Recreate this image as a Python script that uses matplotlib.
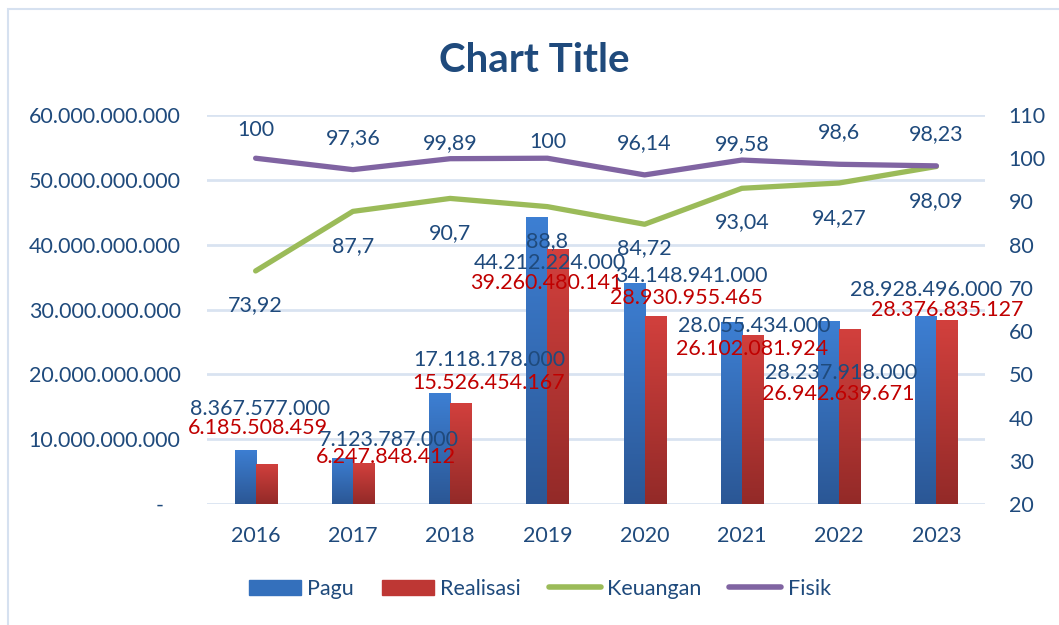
import numpy as np
import matplotlib
matplotlib.use("Agg")
import matplotlib.pyplot as plt
from matplotlib.colors import LinearSegmentedColormap
from matplotlib.patches import Patch, Rectangle
from matplotlib.lines import Line2D

plt.rcParams['font.family'] = ['Lato', 'DejaVu Sans']

years = ['2016', '2017', '2018', '2019', '2020', '2021', '2022', '2023']
pagu = [8367577000, 7123787000, 17118178000, 44212224000,
        34148941000, 28055434000, 28237918000, 28928496000]
realisasi = [6185508459, 6247848412, 15526454167, 39260480141,
             28930955465, 26102081924, 26942639671, 28376835127]
keuangan = [73.92, 87.7, 90.7, 88.8, 84.72, 93.04, 94.27, 98.09]
fisik = [100, 97.36, 99.89, 100, 96.14, 99.58, 98.6, 98.23]
left_ticks = ['-', '10.000.000.000', '20.000.000.000', '30.000.000.000',
              '40.000.000.000', '50.000.000.000', '60.000.000.000']

# hand placed data labels (as in the source chart)
pagu_dx = [0.05, 0.37, 0.40, 0.03, 0.48, 0.13, 0.02, -0.11]
pagu_ly = [14.65, 9.87, 22.2, 37.2, 35.2, 27.5, 20.2, 33.0]   # billions
real_dx = [0.02, 0.34, 0.40, -0.01, 0.43, 0.10, -0.01, 0.11]
real_ly = [11.7, 7.25, 18.7, 34.1, 31.8, 23.9, 17.0, 29.9]
keu_ly = [66.1, 79.7, 82.7, 80.9, 79.3, 85.3, 86.2, 90.1]
fis_ly = [106.6, 104.7, 103.6, 103.8, 103.6, 103.3, 106.1, 105.6]

dark = '#1F4A7C'
red_txt = '#C00000'
green = '#9BBB59'
purple = '#8064A2'
grid_c = '#D9E3F1'
fs = 15.5

def fmt(v):
    return f'{v:,}'.replace(',', '.')

def fmt_pct(v):
    return f'{v:g}'.replace('.', ',')

fig = plt.figure(figsize=(10.59, 6.25), dpi=100)
fig.patches.append(Rectangle((8/1059, -0.05), 1.2, 1 - 9/625 + 0.05,
                             transform=fig.transFigure, fill=False,
                             edgecolor='#D6E1F0', lw=1.5))
ax = fig.add_axes([207/1059, 1 - 504/625, 778/1059, 389/625])
x = np.arange(len(years))
w = 0.216

blue_cm = LinearSegmentedColormap.from_list('b', ['#2B5795', '#3D7FD3'])
red_cm = LinearSegmentedColormap.from_list('r', ['#932A28', '#D2403D'])
grad = np.linspace(0, 1, 256).reshape(-1, 1)

b1 = ax.bar(x - w/2, np.array(pagu) / 1e9, w, color='none', zorder=2)
b2 = ax.bar(x + w/2, np.array(realisasi) / 1e9, w, color='none', zorder=2)
for bars, cm in ((b1, blue_cm), (b2, red_cm)):
    for p in bars:
        x0, h = p.get_x(), p.get_height()
        im = ax.imshow(grad, extent=(x0, x0 + w, 0, h), origin='lower',
                       aspect='auto', cmap=cm, zorder=2)
        im.set_clip_path(p)

ax.set_xlim(-0.5, len(years) - 0.5)
ax.set_ylim(0, 60)
ax.set_yticks(np.arange(0, 61, 10))
ax.set_yticklabels([t if t != '-' else '-   ' for t in left_ticks])
ax.set_xticks(x)
ax.set_xticklabels(years)
ax.grid(axis='y', color=grid_c, lw=2)
ax.set_axisbelow(True)
ax.tick_params(length=0, labelsize=fs, colors=dark, pad=19)
ax.tick_params(axis='x', pad=16)
for s in ax.spines.values():
    s.set_visible(False)

ax2 = ax.twinx()
ax2.set_ylim(20, 110)
ax2.set_yticks(np.arange(20, 111, 10))
ax2.tick_params(length=0, labelsize=fs, colors=dark, pad=17)
for s in ax2.spines.values():
    s.set_visible(False)
ax2.plot(x, keuangan, color=green, lw=3.8, solid_capstyle='round',
         solid_joinstyle='round', zorder=3)
ax2.plot(x, fisik, color=purple, lw=3.8, solid_capstyle='round',
         solid_joinstyle='round', zorder=3)

for i in range(len(years)):
    ax2.text(i + pagu_dx[i], 20 + pagu_ly[i] * 1.5, fmt(pagu[i]), color=dark,
             fontsize=fs, ha='center', va='center', zorder=5)
    ax2.text(i + real_dx[i], 20 + real_ly[i] * 1.5, fmt(realisasi[i]), color=red_txt,
             fontsize=fs, ha='center', va='center', zorder=5)
    ax2.text(i, keu_ly[i], fmt_pct(keuangan[i]), color=dark, fontsize=fs,
             ha='center', va='center', zorder=5)
    ax2.text(i, fis_ly[i], fmt_pct(fisik[i]), color=dark, fontsize=fs,
             ha='center', va='center', zorder=5)

fig.text(534/1059, 1 - 60/625, 'Chart Title', fontsize=29, fontweight='bold',
         color=dark, ha='center', va='center')

handles = [Patch(color='#3470BC'), Patch(color='#BE3734'),
           Line2D([], [], color=green, lw=4, solid_capstyle='round'),
           Line2D([], [], color=purple, lw=4, solid_capstyle='round')]
leg = fig.legend(handles, ['Pagu', 'Realisasi', 'Keuangan', 'Fisik'],
                 loc='center', bbox_to_anchor=(540/1059, 1 - 589/625), ncol=4,
                 frameon=False, fontsize=fs, handlelength=2.4, handleheight=0.7,
                 handletextpad=0.3, columnspacing=1.3)
for t in leg.get_texts():
    t.set_color(dark)

fig.savefig('out.png', dpi=100)
